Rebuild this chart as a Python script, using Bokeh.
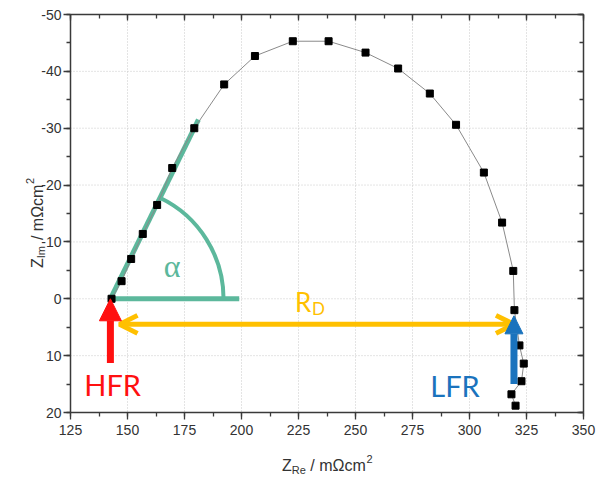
import math
from bokeh.plotting import figure
from bokeh.models import (Range1d, FixedTicker, LinearAxis, Arrow, NormalHead,
                          OpenHead, Label, ColumnDataSource)
from bokeh.embed import file_html
from bokeh.resources import INLINE

# ---------------- data ----------------
z_re = [143.0, 147.4, 151.6, 156.7, 163.0, 169.6, 179.3, 192.4, 205.9, 222.5,
        238.2, 254.4, 268.7, 282.6, 294.1, 306.3, 314.3, 319.2, 319.7, 321.9,
        323.8, 322.8, 318.4, 320.2]
z_im = [0.0, -3.1, -7.0, -11.4, -16.5, -23.0, -30.0, -37.7, -42.7, -45.3,
        -45.3, -43.3, -40.5, -36.1, -30.6, -22.2, -13.4, -4.9, 2.0, 8.2,
        11.4, 14.5, 16.8, 18.8]
x_ticks = [125, 150, 175, 200, 225, 250, 275, 300, 325, 350]
y_ticks = [-50, -40, -30, -20, -10, 0, 10, 20]
hfr = 143.0
lfr = 319.5
n_fit = 7  # points used for the high-frequency slope

# ---------------- style / layout ----------------
GREEN = "#5cb89c"
ORANGE = "#ffc000"
RED = "#ff1010"
BLUE = "#1a73bd"
AX = "#3a3a3a"
TXT = "#333333"
W, H = 600, 476
BL, BR, BT, BB = 70, 17, 14, 64          # where the axis box sits in the canvas
FW, FH = W - BL - BR, H - BT - BB
xmin, xmax = x_ticks[0], x_ticks[-1]
ymin, ymax = y_ticks[0], y_ticks[-1]
kx = FW / (xmax - xmin)
ky = FH / (ymax - ymin)

x_minor = [xmin + 12.5 * i for i in range(2 * (len(x_ticks) - 1) + 1)]
y_minor = [ymin + 5 * i for i in range(2 * (len(y_ticks) - 1) + 1)]

p = figure(width=W, height=H, output_backend="svg", toolbar_location=None,
           x_range=Range1d(xmin - BL / kx, xmax + BR / kx),
           y_range=Range1d(ymax + BB / ky, ymin - BT / ky),
           x_axis_type=None, y_axis_type=None)
p.min_border = 0
p.min_border_left = p.min_border_right = p.min_border_top = p.min_border_bottom = 0
p.outline_line_color = None
p.background_fill_color = "white"
p.border_fill_color = "white"
p.xgrid.visible = False
p.ygrid.visible = False

# dotted grid at the major ticks
p.segment(x0=x_ticks, y0=[ymin] * len(x_ticks), x1=x_ticks, y1=[ymax] * len(x_ticks),
          line_color="#c9c9c9", line_dash="1 2", line_width=1)
p.segment(x0=[xmin] * len(y_ticks), y0=y_ticks, x1=[xmax] * len(y_ticks), y1=y_ticks,
          line_color="#c9c9c9", line_dash="1 2", line_width=1)


def style_axis(ax, ticks, minor, outward, labels):
    ax.ticker = FixedTicker(ticks=ticks, minor_ticks=minor)
    ax.axis_line_color = AX
    ax.axis_line_width = 1.5
    ax.major_tick_line_color = AX
    ax.minor_tick_line_color = AX
    ax.major_tick_line_width = 1.3
    ax.minor_tick_line_width = 1.3
    if outward:
        ax.major_tick_out, ax.major_tick_in = 7, 0
        ax.minor_tick_out, ax.minor_tick_in = 4, 0
    else:
        ax.major_tick_out, ax.major_tick_in = 0, 6
        ax.minor_tick_out, ax.minor_tick_in = 0, 4
    if labels:
        ax.major_label_text_font = "Liberation Sans"
        ax.major_label_text_font_size = "14px"
        ax.major_label_text_color = TXT
        ax.major_label_overrides = {t: str(t) for t in ticks}
    else:
        ax.major_label_overrides = {t: "" for t in ticks}
        ax.major_label_standoff = 0
        ax.major_label_text_font_size = "1px"


xb = LinearAxis(fixed_location=ymax, bounds=(xmin, xmax))
style_axis(xb, x_ticks, x_minor, True, True); xb.major_label_standoff = 5
yl = LinearAxis(fixed_location=xmin, bounds=(ymin, ymax))
style_axis(yl, y_ticks, y_minor, True, True); yl.major_label_standoff = 2
xt = LinearAxis(fixed_location=ymin, bounds=(xmin, xmax))
style_axis(xt, x_ticks, x_minor, False, False)
yr = LinearAxis(fixed_location=xmax, bounds=(ymin, ymax))
style_axis(yr, y_ticks, y_minor, False, False)
p.add_layout(xb, "below")
p.add_layout(yl, "left")
p.add_layout(xt, "above")
p.add_layout(yr, "right")

# ---------------- alpha construction ----------------
fx = z_re[0] + 1.05 * (z_re[n_fit - 1] - z_re[0])
fy = z_im[0] + 1.05 * (z_im[n_fit - 1] - z_im[0])
p.line([z_re[0] - 0.5, fx], [z_im[0], fy], line_color=GREEN, line_width=5)
p.line([z_re[0] - 0.5, z_re[0] + 56], [z_im[0], z_im[0]], line_color=GREEN, line_width=5)
ang = math.atan2((z_im[0] - z_im[n_fit - 1]) * ky, (z_re[n_fit - 1] - z_re[0]) * kx)
p.arc(x=[z_re[0]], y=[z_im[0]], radius=112, radius_units="screen",
      start_angle=0, end_angle=ang, line_color=GREEN, line_width=4)

# ---------------- impedance data ----------------
src = ColumnDataSource(dict(x=z_re, y=z_im))
p.line("x", "y", source=src, line_color="#8a8a8a", line_width=1)
p.scatter("x", "y", source=src, marker="square", size=7, color="black")

# ---------------- arrows ----------------
p.add_layout(Arrow(end=OpenHead(size=18, line_color=ORANGE, line_width=5),
                   start=OpenHead(size=18, line_color=ORANGE, line_width=5),
                   x_start=hfr + 3.5, y_start=4.5, x_end=lfr, y_end=4.5,
                   line_color=ORANGE, line_width=5))
p.add_layout(Arrow(end=NormalHead(size=22, fill_color=RED, line_color=RED, line_width=1),
                   x_start=hfr - 0.5, y_start=11.3, x_end=hfr - 0.5, y_end=0,
                   line_color=RED, line_width=7))
p.add_layout(Arrow(end=NormalHead(size=18, fill_color=BLUE, line_color=BLUE, line_width=1),
                   x_start=lfr, y_start=15.0, x_end=lfr, y_end=3.0,
                   line_color=BLUE, line_width=7))


# ---------------- texts ----------------
def lab(text, x, y, xo=0, yo=0, size="16px", color=TXT, font="Liberation Sans",
        align="left", angle=0, baseline="alphabetic"):
    p.add_layout(Label(x=x, y=y, x_offset=xo, y_offset=yo, text=text,
                       text_font_size=size, text_color=color, text_font=font,
                       text_align=align, angle=angle, text_baseline=baseline))


lab("HFR", hfr + 0.5, 15.0, size="29px", color=RED, font="Lato", align="center", baseline="middle")
lab("LFR", lfr - 15, 15.2, size="29px", color=BLUE, font="Lato", align="right", baseline="middle")
lab("α", 169.6, -5.7, size="32px", color=GREEN, font="Liberation Serif", align="center", baseline="middle")
lab("R", 223.5, 0.6, size="26px", color=ORANGE, font="Lato")
lab("D", 223.5, 0.6, xo=17, yo=-6, size="17px", color=ORANGE, font="Lato")

# x axis title
cx = (xmin + xmax) / 2
x0 = -45
lab("Z", cx, ymax, xo=x0, yo=-53, size="16px")
lab("Re", cx, ymax, xo=x0 + 9.8, yo=-57, size="11px")
lab("/ mΩcm", cx, ymax, xo=x0 + 28.3, yo=-53, size="16px")
lab("2", cx, ymax, xo=x0 + 84.6, yo=-46, size="11px")

# y axis title (rotated)
ya = math.pi / 2
lab("Z", xmin, 0, xo=-33.5, yo=30.7, size="16px", angle=ya)
lab("Im", xmin, 0, xo=-29.5, yo=30.7 + 9.8, size="11px", angle=ya)
lab("/ mΩcm", xmin, 0, xo=-33.5, yo=30.7 + 28.0, size="16px", angle=ya)
lab("2", xmin, 0, xo=-40.5, yo=30.7 + 84.2, size="11px", angle=ya)

open("out.html", "w").write(file_html(p, INLINE))
